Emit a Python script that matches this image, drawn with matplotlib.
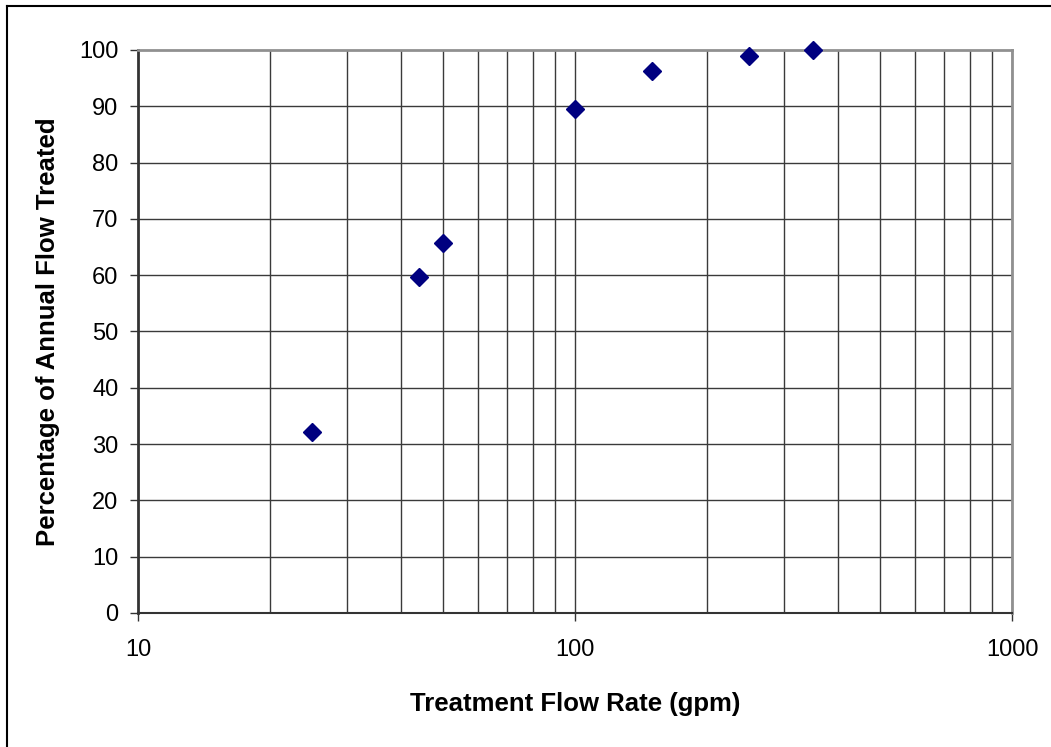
import matplotlib
matplotlib.use('Agg')
import matplotlib.pyplot as plt
from matplotlib.lines import Line2D
from matplotlib.ticker import FixedLocator, NullFormatter

plt.rcParams['font.family'] = ['Liberation Sans', 'DejaVu Sans']

# Data
flow_rate_gpm = [25, 44, 50, 100, 150, 250, 350]
pct_treated = [32.1, 59.7, 65.7, 89.6, 96.3, 98.9, 100.0]

y_ticks = list(range(0, 101, 10))
x_major = [10, 100, 1000]
x_minor = [20, 30, 40, 50, 60, 70, 80, 90, 200, 300, 400, 500, 600, 700, 800, 900]

fig = plt.figure(figsize=(10.51, 7.47), dpi=100)
ax = fig.add_axes([0.1313, 0.1794, 0.8316, 0.7537])

grid_color = '#3a3a3a'
ax.set_xscale('log')
ax.set_xlim(10, 1000)
ax.set_ylim(0, 100)

ax.xaxis.set_major_locator(FixedLocator(x_major))
ax.xaxis.set_minor_locator(FixedLocator(x_minor))
ax.xaxis.set_minor_formatter(NullFormatter())
ax.set_xticklabels([str(v) for v in x_major])
ax.set_yticks(y_ticks)

for v in x_major[1:] + x_minor:
    ax.axvline(v, color=grid_color, lw=1.0, zorder=1)
for v in y_ticks[1:-1]:
    ax.axhline(v, color=grid_color, lw=1.0, zorder=1)

ax.plot(flow_rate_gpm, pct_treated, linestyle='none', marker='D', markersize=9,
        color='#000080', zorder=3, clip_on=False)

ax.spines['top'].set_color('#909090')
ax.spines['right'].set_color('#909090')
ax.spines['top'].set_linewidth(2)
ax.spines['right'].set_linewidth(2)
ax.spines['left'].set_color('#333333')
ax.spines['bottom'].set_color('#333333')
ax.spines['left'].set_linewidth(2)
ax.spines['bottom'].set_linewidth(1.5)

ax.tick_params(axis='both', which='major', direction='out', length=6, width=1,
               color='#333333', labelsize=17, pad=8)
ax.tick_params(axis='x', which='minor', length=0)
ax.tick_params(axis='x', which='major', pad=13)

ax.set_xlabel('Treatment Flow Rate (gpm)', fontsize=18.5, fontweight='bold', labelpad=22)
ax.set_ylabel('Percentage of Annual Flow Treated', fontsize=18.5, fontweight='bold', labelpad=14)

# chart outline (left and top edges visible in the reference)
fig.add_artist(Line2D([7 / 1051, 7 / 1051], [0, 1 - 6 / 747], transform=fig.transFigure,
                      color='black', lw=1.5))
fig.add_artist(Line2D([7 / 1051, 1], [1 - 6 / 747, 1 - 6 / 747], transform=fig.transFigure,
                      color='black', lw=1.5))

fig.savefig('out.png', dpi=100)
